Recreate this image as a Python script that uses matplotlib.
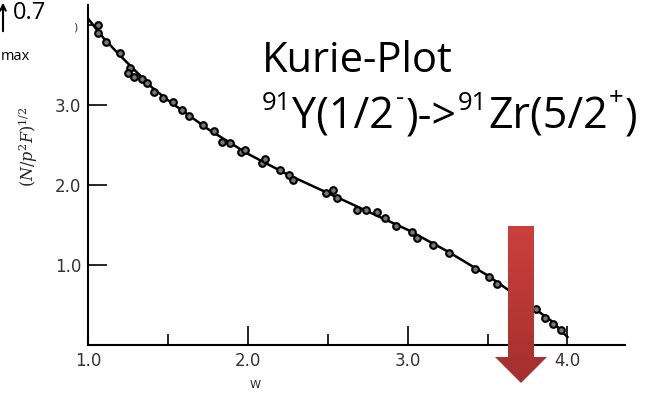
import numpy as np
import matplotlib
matplotlib.use("Agg")
import matplotlib.pyplot as plt
from matplotlib.patches import Polygon
from matplotlib.colors import LinearSegmentedColormap

plt.rcParams['mathtext.fontset'] = 'dejavuserif'

# measured points (W, (N/p^2F)^1/2)
w_pts = [1.06, 1.06, 1.11, 1.20, 1.26, 1.25, 1.29, 1.34, 1.37, 1.41, 1.47, 1.53,
         1.59, 1.63, 1.72, 1.79, 1.84, 1.89, 1.96, 1.98, 2.09, 2.11, 2.20, 2.26,
         2.28, 2.49, 2.53, 2.56, 2.68, 2.74, 2.81, 2.86, 2.93, 3.03, 3.06, 3.16,
         3.26, 3.42, 3.51, 3.56, 3.80, 3.86, 3.91, 3.96]
y_pts = [4.00, 3.90, 3.79, 3.65, 3.46, 3.40, 3.35, 3.33, 3.28, 3.16, 3.09, 3.04,
         2.94, 2.86, 2.75, 2.68, 2.54, 2.53, 2.41, 2.44, 2.28, 2.33, 2.19, 2.13,
         2.06, 1.90, 1.94, 1.84, 1.69, 1.69, 1.66, 1.59, 1.49, 1.41, 1.34, 1.25,
         1.15, 0.95, 0.85, 0.76, 0.45, 0.34, 0.26, 0.19]

# fitted curve
w_fit = [1.0, 1.1, 1.2, 1.3, 1.4, 1.5, 1.75, 2.0, 2.25, 2.5, 2.75, 3.0, 3.25,
         3.5, 3.75, 3.9, 4.0]
y_fit = [4.08, 3.83, 3.62, 3.42, 3.22, 3.06, 2.70, 2.39, 2.13, 1.90, 1.67, 1.44,
         1.17, 0.87, 0.52, 0.30, 0.10]

x_major = [1.0, 2.0, 3.0, 4.0]
x_minor = [1.5, 2.5, 3.5]
y_major = [1.0, 2.0, 3.0]
tick_labels = ['1.0', '2.0', '3.0', '4.0']

# decay line pieces: text, kind ('n' normal, 's' sup digits, 'z' sup sign)
decay_parts = ['91', 'Y(1/2', '-', ')->', '91', 'Zr(5/2', '+', ')']
decay_kind = ['s', 'n', 'z', 'n', 's', 'n', 'z', 'n']
# left edge of each piece (pixels)
decay_x = [262, 292, 396, 406, 455, 486, 606, 620]

fig = plt.figure(figsize=(6.58, 3.95), dpi=100)
ax = fig.add_axes([88/658, 50/395, 537/658, 340/395])
ax.set_xlim(1.0, 4.36)
ax.set_ylim(0, 4.25)

ax.plot(w_fit, y_fit, color='black', lw=1.8, zorder=2)
ax.plot(w_pts, y_pts, 'o', ms=4.8, mfc='#777777', mec='black', mew=1.5, zorder=3)

for s in ['top', 'right']:
    ax.spines[s].set_visible(False)
for s in ['left', 'bottom']:
    ax.spines[s].set_linewidth(1.5)

ax.set_xticks(x_major)
ax.set_xticklabels(tick_labels)
ax.set_xticks(x_minor, minor=True)
ax.set_yticks(y_major)
ax.set_yticklabels(tick_labels[:3])
ax.set_yticks([4.0], minor=True)
ax.tick_params(axis='both', which='major', direction='in', length=14, width=1.2,
               labelsize=12, labelcolor='#333333', pad=5)
ax.tick_params(axis='x', which='minor', direction='in', length=8, width=1.2)
ax.tick_params(axis='y', which='minor', direction='in', length=4, width=1.2)

fig.text(28/658, 1 - 147/395, r'$(N/p^2F)^{1/2}$', rotation=90, fontsize=11.5,
         ha='center', va='center', color='#222222')
fig.text(255/658, 1 - 385/395, 'W', fontsize=8, ha='center', va='center',
         color='#222222')

# overlay in pixel coordinates
ov = fig.add_axes([0, 0, 1, 1])
ov.set_zorder(5)
ov.set_xlim(0, 658)
ov.set_ylim(395, 0)
ov.axis('off')

ov.text(262, 72, 'Kurie-Plot', fontsize=30, family='Open Sans', va='baseline')

renderer = fig.canvas.get_renderer()
end = 0
for txt, kind, x in zip(decay_parts, decay_kind, decay_x):
    x = max(x, end + 1)
    if kind == 's':
        t = ov.text(x, 110, txt, fontsize=18.5, family='Open Sans', va='baseline')
    elif kind == 'z':
        t = ov.text(x, 105, txt, fontsize=18.5, family='Open Sans', va='baseline')
    else:
        t = ov.text(x, 128, txt, fontsize=31, family='Open Sans', va='baseline')
    bb = t.get_window_extent(renderer)
    end = bb.x1

ov.text(13, 19, '0.7', fontsize=17, family='Open Sans', va='baseline')
ov.text(1, 60, 'max', fontsize=10.5, family='Open Sans', va='baseline')
ov.annotate('', xy=(3, 0), xytext=(3, 34),
            arrowprops=dict(arrowstyle='->', lw=1.5, color='black'))
ov.text(73, 27, ')', fontsize=8, color='#333333', va='center')

# red arrow
arrow_xy = [(508, 226), (534, 226), (534, 357), (547, 357), (521, 383),
            (495, 357), (508, 357)]
poly = Polygon(arrow_xy, closed=True, facecolor='none', edgecolor='none')
ov.add_patch(poly)
cmap = LinearSegmentedColormap.from_list('red', ['#cc3f3d', '#a3302e'])
grad = np.linspace(0, 1, 100).reshape(-1, 1)
im = ov.imshow(grad, cmap=cmap, extent=(495, 547, 383, 226), aspect='auto',
               zorder=6)
im.set_clip_path(poly)
ov.set_xlim(0, 658)
ov.set_ylim(395, 0)

fig.savefig('out.png', dpi=100)
